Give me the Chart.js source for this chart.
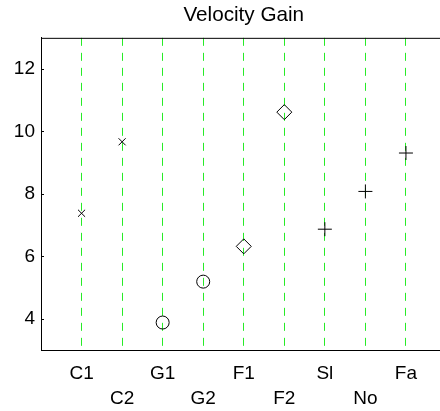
<!DOCTYPE html>
<html>
<head>
<meta charset="utf-8">
<script src="https://cdn.jsdelivr.net/npm/chart.js@4/dist/chart.umd.min.js"></script>
<style>
  html, body { margin: 0; padding: 0; background: #fff; overflow: hidden; }
  #gainChart { display: block; }
</style>
</head>
<body>
<!-- the axes run past the right edge of the visible figure -->
<canvas id="gainChart" width="455" height="411"></canvas>
<script>
// Condition labels along the x axis and the measured gain for each
const categories = ["C1", "C2", "G1", "G2", "F1", "F2", "Sl", "No", "Fa"];
const velocityGain = [7.38, 9.67, 3.88, 5.19, 6.32, 10.62, 6.87, 8.08, 9.31];
const yTicks = [4, 6, 8, 10, 12];

// Marker per condition pair
const markerStyle = ["crossRot", "crossRot", "circle", "circle", "rectRot", "rectRot", "cross", "cross", "cross"];
const markerRadius = { crossRot: 5, circle: 6.5, rectRot: 7.5, cross: 7 };

const FONT = "Arial, 'Liberation Sans', sans-serif";

// Frame on top of the plot and the small inward ticks on the y axis
const frame = {
    id: "frame",
    afterDraw(chart) {
        const { ctx, chartArea } = chart;
        const y = chart.scales.y;
        ctx.save();
        ctx.strokeStyle = "#000";
        ctx.lineWidth = 1;
        ctx.beginPath();
        ctx.moveTo(chartArea.left, chartArea.top + 0.5);
        ctx.lineTo(chartArea.right, chartArea.top + 0.5);
        yTicks.forEach(v => {
            const py = Math.round(y.getPixelForValue(v)) + 0.5;
            ctx.moveTo(chartArea.left, py);
            ctx.lineTo(chartArea.left + 3, py);
        });
        ctx.stroke();
        ctx.restore();
    }
};

new Chart(document.getElementById("gainChart"), {
    type: "scatter",
    data: {
        datasets: [{
            data: velocityGain.map((v, i) => ({ x: i + 1, y: v })),
            pointStyle: markerStyle,
            pointRadius: markerStyle.map(s => markerRadius[s]),
            pointHoverRadius: markerStyle.map(s => markerRadius[s]),
            borderColor: "#000",
            backgroundColor: "rgba(0,0,0,0)",
            borderWidth: 1
        }]
    },
    options: {
        responsive: false,
        devicePixelRatio: 1,
        animation: false,
        layout: { padding: 0 },
        plugins: {
            legend: { display: false },
            tooltip: { enabled: false },
            title: {
                display: true,
                text: "Velocity Gain",
                fullSize: false,
                color: "#000",
                font: { family: FONT, size: 20.7, weight: "normal", lineHeight: 1.2 },
                padding: { top: 3, bottom: 10 }
            }
        },
        scales: {
            x: {
                type: "linear",
                min: 0,
                max: 10,
                afterBuildTicks: scale => {
                    scale.ticks = categories.map((c, i) => ({ value: i + 1 }));
                },
                afterFit: scale => { scale.height = 61; },
                ticks: {
                    color: "#000",
                    font: { family: FONT, size: 19, lineHeight: 1.316 },
                    padding: 11,
                    maxRotation: 0,
                    autoSkip: false,
                    callback: v => {
                        const i = Math.round(v) - 1;
                        return i % 2 === 0 ? [categories[i]] : ["", categories[i]];
                    }
                },
                grid: {
                    color: "rgb(40,235,40)",
                    lineWidth: 1,
                    drawTicks: false
                },
                border: { color: "#000", width: 1, dash: [8, 7] }
            },
            y: {
                min: 3,
                max: 13,
                afterBuildTicks: scale => {
                    scale.ticks = yTicks.map(v => ({ value: v }));
                },
                afterFit: scale => { scale.width = 41; },
                ticks: {
                    color: "#000",
                    font: { family: FONT, size: 19 },
                    padding: 6
                },
                grid: { display: false, drawTicks: false },
                border: { color: "#000", width: 1 }
            }
        }
    },
    plugins: [frame]
});
</script>
</body>
</html>
